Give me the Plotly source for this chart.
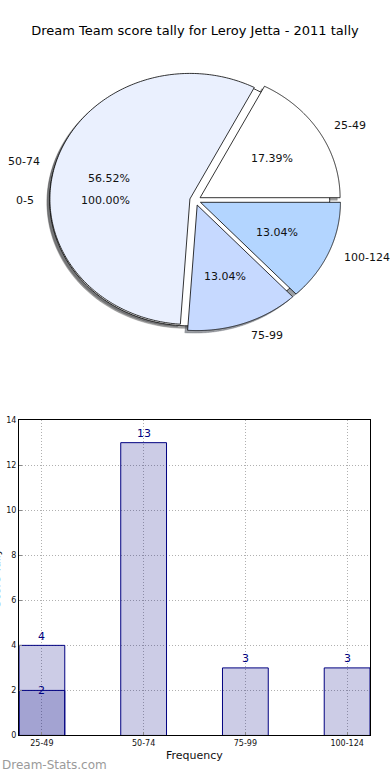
import numpy as np
import plotly.graph_objects as go

# ---------------- data ----------------
chart_title = "Dream Team score tally for Leroy Jetta - 2011 tally"

pie_labels = ["25-49", "50-74", "75-99", "100-124"]
pie_values = [4, 13, 3, 3]
pie_colors = ["#FFFFFF", "#EAF0FE", "#C6D9FF", "#B3D5FF"]

extra_labels = ["0-5"]
extra_values = [2]
extra_colors = ["#FFFFFF"]

bar_categories = ["25-49", "50-74", "75-99", "100-124"]
bar_values = [4, 13, 3, 3]
overlay_categories = ["25-49"]
overlay_values = [2]

y_ticks = [0, 2, 4, 6, 8, 10, 12, 14]

# ---------------- style / geometry ----------------
FONT = "DejaVu Sans"
W, H = 390, 780
EXPLODE = 0.04
RX, RY = 140.0, 127.0          # pie radii in px (ellipse)
CX, CY = 195.3, 198.6           # pie centre in px
PIE_BOX = 390.0                 # pie axes occupy top 390 px
GRID_DASH = "1px,2px"


def wedge_xy(t1, t2, explode, n=200):
    mid = np.deg2rad((t1 + t2) / 2)
    ox, oy = explode * np.cos(mid), explode * np.sin(mid)
    th = np.deg2rad(np.linspace(t1, t2, n))
    x = ox + np.cos(th)
    y = oy + np.sin(th)
    if abs((t2 - t1) - 360) > 1e-9:
        x = np.concatenate([[ox], x, [ox]])
        y = np.concatenate([[oy], y, [oy]])
    return x, y, ox, oy, mid


def shade(hexcol):
    h = hexcol.lstrip("#")
    r, g, b = (int(h[i:i + 2], 16) for i in (0, 2, 4))
    return f"rgba({int(r*0.3)},{int(g*0.3)},{int(b*0.3)},0.5)"


def build_wedges(labels, values, colors):
    tot = float(sum(values))
    out = []
    t = 0.0
    for lab, v, c in zip(labels, values, colors):
        t2 = t + 360.0 * v / tot
        x, y, ox, oy, mid = wedge_xy(t, t2, EXPLODE)
        out.append(dict(label=lab, pct=100.0 * v / tot, color=c, x=x, y=y,
                        ox=ox, oy=oy, mid=mid))
        t = t2
    return out


extra_w = build_wedges(extra_labels, extra_values, extra_colors)
main_w = build_wedges(pie_labels, pie_values, pie_colors)
all_w = extra_w + main_w

fig = go.Figure()

# shadows first (drawn beneath every wedge)
for w in all_w:
    sc = shade(w["color"])
    fig.add_trace(go.Scatter(x=w["x"] - 0.02, y=w["y"] - 0.02, mode="lines",
                             fill="toself", fillcolor=sc,
                             line=dict(color=sc, width=0.5, simplify=False),
                             xaxis="x2", yaxis="y2", hoverinfo="skip",
                             showlegend=False))
# wedges
for w in all_w:
    fig.add_trace(go.Scatter(x=w["x"], y=w["y"], mode="lines", fill="toself",
                             fillcolor=w["color"],
                             line=dict(color="black", width=0.8, simplify=False),
                             xaxis="x2", yaxis="y2", hoverinfo="skip",
                             showlegend=False))

annotations = []
for w in all_w:
    c, s = np.cos(w["mid"]), np.sin(w["mid"])
    annotations.append(dict(xref="x2", yref="y2",
                            x=w["ox"] + 1.1 * c, y=w["oy"] + 1.1 * s,
                            text=w["label"], showarrow=False,
                            xanchor="left" if c > 0 else "right",
                            yanchor="middle",
                            font=dict(family=FONT, size=11, color="#111")))
    annotations.append(dict(xref="x2", yref="y2",
                            x=w["ox"] + 0.6 * c, y=w["oy"] + 0.6 * s,
                            text=f"{w['pct']:.2f}%", showarrow=False,
                            xanchor="center", yanchor="middle",
                            font=dict(family=FONT, size=11, color="#111")))

# ---------------- bars ----------------
fig.add_trace(go.Bar(x=bar_categories, y=bar_values, width=0.45,
                     marker=dict(color="rgba(0,0,128,0.2)",
                                 line=dict(color="#000080", width=1)),
                     hoverinfo="skip", showlegend=False))
fig.add_trace(go.Bar(x=overlay_categories, y=overlay_values, width=0.45,
                     marker=dict(color="rgba(0,0,128,0.2)",
                                 line=dict(color="#000080", width=1)),
                     hoverinfo="skip", showlegend=False))

for cat, v in zip(bar_categories, bar_values):
    annotations.append(dict(xref="x", yref="y", x=cat, y=v, yshift=9,
                            text=str(v), showarrow=False,
                            xanchor="center", yanchor="middle",
                            font=dict(family=FONT, size=11, color="#000080")))
for cat, v in zip(overlay_categories, overlay_values):
    annotations.append(dict(xref="x", yref="y", x=cat, y=v, yshift=0,
                            text=str(v), showarrow=False,
                            xanchor="center", yanchor="middle",
                            font=dict(family=FONT, size=11, color="#000080")))

# axis titles / watermark
annotations.append(dict(xref="paper", yref="paper", x=194.5 / W,
                        y=(H - 760) / H, text="Frequency", showarrow=False,
                        xanchor="center", yanchor="middle",
                        font=dict(family=FONT, size=11, color="#111")))
annotations.append(dict(xref="paper", yref="paper", x=-4.0 / W,
                        y=(H - 581) / H, text="Score Tally", showarrow=False,
                        textangle=-90, xanchor="center", yanchor="middle",
                        font=dict(family=FONT, size=11, color="#111")))
annotations.append(dict(xref="paper", yref="paper", x=0, y=(H - 770) / H,
                        text="Dream-Stats.com", showarrow=False,
                        xanchor="left", yanchor="middle",
                        font=dict(family=FONT, size=12, color="#9a9a9a")))

bx0, bx1 = 19.0, 370.0
by_top, by_bot = 421.0, 740.0

axis_common = dict(showline=True, mirror=True, linecolor="black", linewidth=1,
                   showgrid=True, gridcolor="#b0b0b0", griddash=GRID_DASH,
                   gridwidth=1, ticks="inside", ticklen=3, tickcolor="#888",
                   tickfont=dict(family=FONT, size=8, color="#111"),
                   zeroline=False, fixedrange=True)

fig.update_layout(
    width=W, height=H,
    margin=dict(l=0, r=0, t=0, b=0),
    paper_bgcolor="white", plot_bgcolor="white",
    barmode="overlay",
    title=dict(text=chart_title, x=0.5, xanchor="center",
               y=1 - 30.0 / H, yanchor="middle",
               font=dict(family=FONT, size=13, color="black")),
    xaxis=dict(domain=[bx0 / W, bx1 / W], type="category",
               range=[-0.225, 3.225], **axis_common),
    yaxis=dict(domain=[(H - by_bot) / H, (H - by_top) / H],
               range=[0, 14], tickvals=y_ticks, **axis_common),
    xaxis2=dict(domain=[0, 1], anchor="y2",
                range=[-CX / RX, (W - CX) / RX],
                visible=False, fixedrange=True),
    yaxis2=dict(domain=[1 - PIE_BOX / H, 1], anchor="x2",
                range=[-(PIE_BOX - CY) / RY, CY / RY],
                visible=False, fixedrange=True),
    annotations=annotations,
    showlegend=False,
)

fig.write_html("out.html", config={"displayModeBar": False},
               post_script="document.body.style.margin='0';"
                           "document.body.style.overflow='hidden';")
